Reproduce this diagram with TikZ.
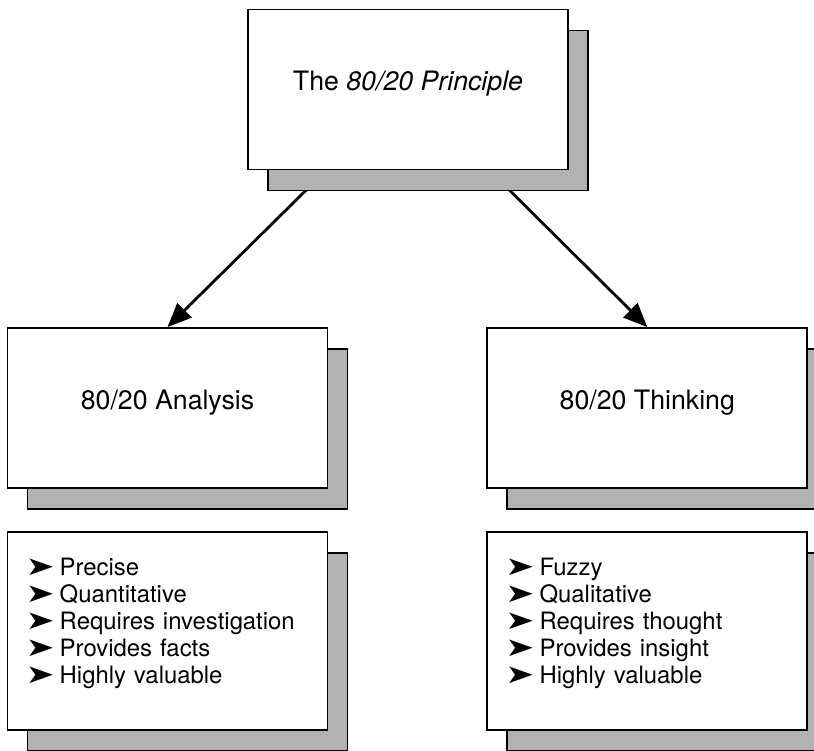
\documentclass[tikz,border=0pt]{standalone}
\usepackage{fontspec}
\setmainfont{TeX Gyre Heros}
\newfontfamily\pointerfont{DejaVu Sans}
\usetikzlibrary{positioning,shadows,arrows.meta,backgrounds}
\newcommand{\bulletmark}{\scalebox{1.45}[1.1]{\pointerfont ➤}\hspace{0.13cm}}
\newcommand{\listpad}{\rule[-0.5cm]{0pt}{0pt}}
\pgfmathsetmacro{\cardwidth}{8}
\pgfmathsetmacro{\cardgap}{3.95}
\pgfmathsetmacro{\listgap}{1.05}

\begin{document}
\begin{tikzpicture}[
    card/.style={draw, line width=1.3pt, fill=white, minimum width=\cardwidth cm,
        drop shadow={shadow xshift=0.5cm, shadow yshift=-0.525cm, opacity=1,
            fill=black!30, draw=black, line width=1.3pt}},
    titlecard/.style={card, minimum height=4cm, text depth=0.42cm,
        font=\fontsize{19}{23}\selectfont},
    listcard/.style={card, minimum height=4.95cm, inner xsep=0.45cm,
        text width=\cardwidth cm-0.9cm, align=left,
        font=\fontsize{17}{19.2}\selectfont},
    pointer/.style={line width=2pt, -{Triangle[length=0.6cm, width=0.5cm]}}
]
    \useasboundingbox (0,0) rectangle (20.35,-18.75);
    % define boxes
    \node[titlecard] (principle) at (10.2,-2.2375) {The \textit{80/20 Principle}};
    \node[titlecard] (analysis) at (4.1875,-10.2) {80/20 Analysis};
    \node[titlecard, right=\cardgap cm of analysis] (thinking) {80/20 Thinking};
    % lists
    \node[listcard, below=\listgap cm of analysis] (analysis_list) {%
        \bulletmark Precise\\
        \bulletmark Quantitative\\
        \bulletmark Requires investigation\\
        \bulletmark Provides facts\\
        \bulletmark Highly valuable\listpad};
    \node[listcard, below=\listgap cm of thinking] (thinking_list) {%
        \bulletmark Fuzzy\\
        \bulletmark Qualitative\\
        \bulletmark Requires thought\\
        \bulletmark Provides insight\\
        \bulletmark Highly valuable\listpad};
    % draw arrows behind the boxes
    \begin{scope}[on background layer]
        \draw[pointer] (principle.center) -- (analysis.north);
        \draw[pointer] (principle.center) -- (thinking.north);
    \end{scope}
\end{tikzpicture}
\end{document}
